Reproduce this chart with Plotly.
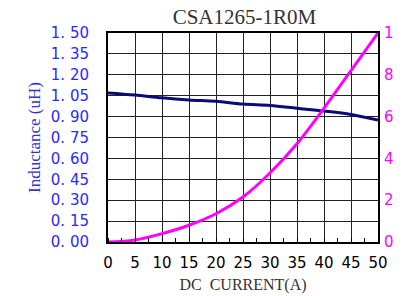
import plotly.graph_objects as go

current = [0, 5, 10, 15, 20, 25, 30, 35, 40, 45, 50]
inductance = [1.07, 1.055, 1.035, 1.02, 1.01, 0.99, 0.98, 0.96, 0.94, 0.915, 0.875]
temp_rise = [0, 1, 4, 8, 13.5, 21.5, 33, 47, 64, 82, 100]

x_ticks = [0, 5, 10, 15, 20, 25, 30, 35, 40, 45, 50]
y_ticks = [0.0, 0.15, 0.30, 0.45, 0.60, 0.75, 0.90, 1.05, 1.20, 1.35, 1.50]
y_labels = ["0. 00", "0. 15", "0. 30", "0. 45", "0. 60", "0. 75", "0. 90", "1. 05", "1. 20", "1. 35", "1. 50"]
y2_ticks = [0, 20, 40, 60, 80, 100]

fig = go.Figure()
fig.add_trace(go.Scatter(x=current, y=inductance, mode="lines",
                         line=dict(color="#0a0a78", width=3), line_shape="spline",
                         showlegend=False))
fig.add_trace(go.Scatter(x=current, y=temp_rise, mode="lines", yaxis="y2",
                         line=dict(color="#ff00ff", width=3), line_shape="spline",
                         showlegend=False))

fig.update_layout(
    width=394, height=288,
    margin=dict(l=100, r=24, t=25, b=54, autoexpand=False),
    paper_bgcolor="white", plot_bgcolor="white",
    title=dict(text="CSA1265-1R0M", x=0.6, xanchor="center", y=0.97, yanchor="middle",
               font=dict(family="Liberation Serif", size=21, color="#333333")),
    xaxis=dict(range=[0, 50], tickvals=x_ticks, ticks="", showgrid=True, automargin=False,
               gridcolor="#222222", gridwidth=1, zeroline=False,
               showline=True, linecolor="black", linewidth=2, mirror=True,
               tickfont=dict(family="DejaVu Sans", size=15, color="black"),
               ticklabelstandoff=6,
               minor=dict(dtick=2.5, ticks="inside", ticklen=4, tickcolor="black", showgrid=False),
               title=dict(text="DC  CURRENT(A)", standoff=8,
                          font=dict(family="Liberation Serif", size=16, color="#333333"))),
    yaxis=dict(range=[0, 1.5], tickvals=y_ticks, ticktext=y_labels, ticks="", automargin=False,
               showgrid=True, gridcolor="#222222", gridwidth=1, zeroline=False,
               showline=True, linecolor="black", linewidth=2, mirror=True,
               tickfont=dict(family="DejaVu Sans", size=15, color="#2a2aff"),
               ticklabelstandoff=14,
               title=dict(text="Inductance (uH)", standoff=6,
                          font=dict(family="Liberation Serif", size=17, color="#3333cc"))),
    yaxis2=dict(range=[0, 100], tickvals=y2_ticks, overlaying="y", side="right", automargin=False,
                showgrid=False, zeroline=False, ticks="",
                tickfont=dict(family="DejaVu Sans", size=15, color="#ff00ff"),
                ticklabelstandoff=5),
)

fig.write_html("out.html")
